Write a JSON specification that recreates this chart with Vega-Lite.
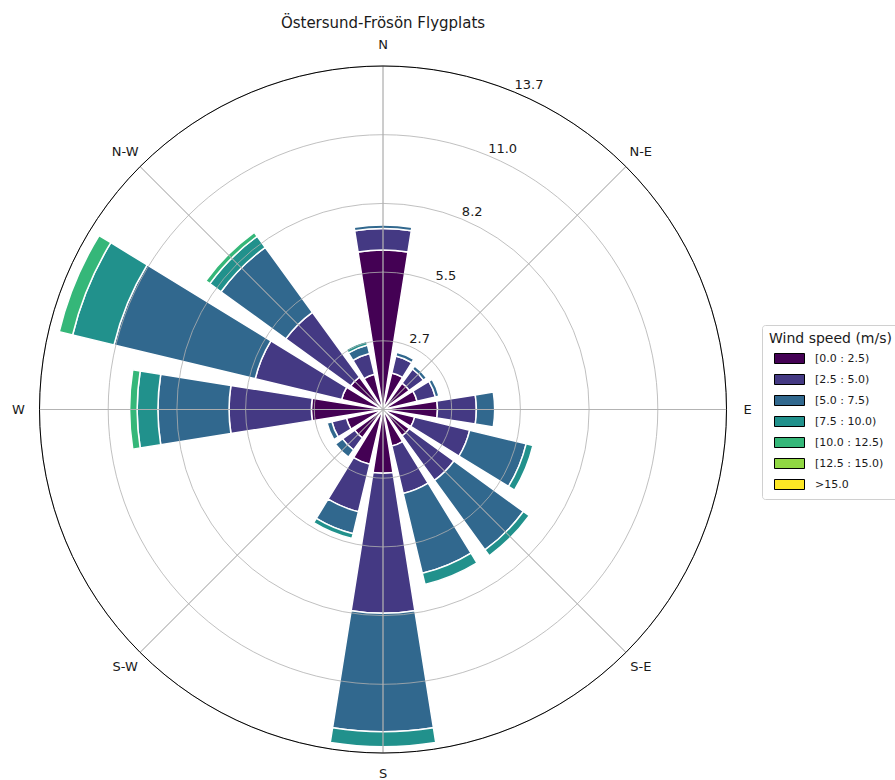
{
  "$schema": "https://vega.github.io/schema/vega-lite/v6.json",
  "width": 766,
  "height": 739,
  "autosize": {"type": "none"},
  "padding": {"left": 0, "top": 40, "right": 129, "bottom": 1},
  "background": "white",
  "title": {"text": "Östersund-Frösön Flygplats", "font": "DejaVu Sans", "fontSize": 15, "fontWeight": "normal", "color": "#1a1a1a", "offset": 8, "anchor": "middle"},
  "config": {"view": {"stroke": null}},
  "datasets": {
    "wind": [
      {"dir": "N", "angle": 0, "speed": "[0.0 : 2.5)", "k": 0, "freq": 6.37},
      {"dir": "N", "angle": 0, "speed": "[2.5 : 5.0)", "k": 1, "freq": 0.86},
      {"dir": "N", "angle": 0, "speed": "[5.0 : 7.5)", "k": 2, "freq": 0.14},
      {"dir": "NNE", "angle": 22.5, "speed": "[0.0 : 2.5)", "k": 0, "freq": 1.5},
      {"dir": "NNE", "angle": 22.5, "speed": "[2.5 : 5.0)", "k": 1, "freq": 0.7},
      {"dir": "NNE", "angle": 22.5, "speed": "[5.0 : 7.5)", "k": 2, "freq": 0.15},
      {"dir": "NE", "angle": 45, "speed": "[0.0 : 2.5)", "k": 0, "freq": 1.3},
      {"dir": "NE", "angle": 45, "speed": "[2.5 : 5.0)", "k": 1, "freq": 0.7},
      {"dir": "NE", "angle": 45, "speed": "[5.0 : 7.5)", "k": 2, "freq": 0.15},
      {"dir": "ENE", "angle": 67.5, "speed": "[0.0 : 2.5)", "k": 0, "freq": 1.4},
      {"dir": "ENE", "angle": 67.5, "speed": "[2.5 : 5.0)", "k": 1, "freq": 0.75},
      {"dir": "ENE", "angle": 67.5, "speed": "[5.0 : 7.5)", "k": 2, "freq": 0.15},
      {"dir": "E", "angle": 90, "speed": "[0.0 : 2.5)", "k": 0, "freq": 2.18},
      {"dir": "E", "angle": 90, "speed": "[2.5 : 5.0)", "k": 1, "freq": 1.55},
      {"dir": "E", "angle": 90, "speed": "[5.0 : 7.5)", "k": 2, "freq": 0.73},
      {"dir": "ESE", "angle": 112.5, "speed": "[0.0 : 2.5)", "k": 0, "freq": 1.3},
      {"dir": "ESE", "angle": 112.5, "speed": "[2.5 : 5.0)", "k": 1, "freq": 2.26},
      {"dir": "ESE", "angle": 112.5, "speed": "[5.0 : 7.5)", "k": 2, "freq": 2.32},
      {"dir": "ESE", "angle": 112.5, "speed": "[7.5 : 10.0)", "k": 3, "freq": 0.28},
      {"dir": "SE", "angle": 135, "speed": "[0.0 : 2.5)", "k": 0, "freq": 1.3},
      {"dir": "SE", "angle": 135, "speed": "[2.5 : 5.0)", "k": 1, "freq": 2.2},
      {"dir": "SE", "angle": 135, "speed": "[5.0 : 7.5)", "k": 2, "freq": 3.43},
      {"dir": "SE", "angle": 135, "speed": "[7.5 : 10.0)", "k": 3, "freq": 0.29},
      {"dir": "SSE", "angle": 157.5, "speed": "[0.0 : 2.5)", "k": 0, "freq": 1.5},
      {"dir": "SSE", "angle": 157.5, "speed": "[2.5 : 5.0)", "k": 1, "freq": 1.95},
      {"dir": "SSE", "angle": 157.5, "speed": "[5.0 : 7.5)", "k": 2, "freq": 3.28},
      {"dir": "SSE", "angle": 157.5, "speed": "[7.5 : 10.0)", "k": 3, "freq": 0.46},
      {"dir": "S", "angle": 180, "speed": "[0.0 : 2.5)", "k": 0, "freq": 2.55},
      {"dir": "S", "angle": 180, "speed": "[2.5 : 5.0)", "k": 1, "freq": 5.59},
      {"dir": "S", "angle": 180, "speed": "[5.0 : 7.5)", "k": 2, "freq": 4.73},
      {"dir": "S", "angle": 180, "speed": "[7.5 : 10.0)", "k": 3, "freq": 0.6},
      {"dir": "SSW", "angle": 202.5, "speed": "[0.0 : 2.5)", "k": 0, "freq": 2.25},
      {"dir": "SSW", "angle": 202.5, "speed": "[2.5 : 5.0)", "k": 1, "freq": 1.95},
      {"dir": "SSW", "angle": 202.5, "speed": "[5.0 : 7.5)", "k": 2, "freq": 0.9},
      {"dir": "SSW", "angle": 202.5, "speed": "[7.5 : 10.0)", "k": 3, "freq": 0.2},
      {"dir": "SW", "angle": 225, "speed": "[0.0 : 2.5)", "k": 0, "freq": 1.4},
      {"dir": "SW", "angle": 225, "speed": "[2.5 : 5.0)", "k": 1, "freq": 0.6},
      {"dir": "SW", "angle": 225, "speed": "[5.0 : 7.5)", "k": 2, "freq": 0.35},
      {"dir": "WSW", "angle": 247.5, "speed": "[0.0 : 2.5)", "k": 0, "freq": 1.5},
      {"dir": "WSW", "angle": 247.5, "speed": "[2.5 : 5.0)", "k": 1, "freq": 0.6},
      {"dir": "WSW", "angle": 247.5, "speed": "[5.0 : 7.5)", "k": 2, "freq": 0.2},
      {"dir": "W", "angle": 270, "speed": "[0.0 : 2.5)", "k": 0, "freq": 2.86},
      {"dir": "W", "angle": 270, "speed": "[2.5 : 5.0)", "k": 1, "freq": 3.29},
      {"dir": "W", "angle": 270, "speed": "[5.0 : 7.5)", "k": 2, "freq": 2.84},
      {"dir": "W", "angle": 270, "speed": "[7.5 : 10.0)", "k": 3, "freq": 0.83},
      {"dir": "W", "angle": 270, "speed": "[10.0 : 12.5)", "k": 4, "freq": 0.3},
      {"dir": "WNW", "angle": 292.5, "speed": "[0.0 : 2.5)", "k": 0, "freq": 1.7},
      {"dir": "WNW", "angle": 292.5, "speed": "[2.5 : 5.0)", "k": 1, "freq": 3.55},
      {"dir": "WNW", "angle": 292.5, "speed": "[5.0 : 7.5)", "k": 2, "freq": 5.8},
      {"dir": "WNW", "angle": 292.5, "speed": "[7.5 : 10.0)", "k": 3, "freq": 1.7},
      {"dir": "WNW", "angle": 292.5, "speed": "[10.0 : 12.5)", "k": 4, "freq": 0.55},
      {"dir": "NW", "angle": 315, "speed": "[0.0 : 2.5)", "k": 0, "freq": 1.6},
      {"dir": "NW", "angle": 315, "speed": "[2.5 : 5.0)", "k": 1, "freq": 3.2},
      {"dir": "NW", "angle": 315, "speed": "[5.0 : 7.5)", "k": 2, "freq": 3.2},
      {"dir": "NW", "angle": 315, "speed": "[7.5 : 10.0)", "k": 3, "freq": 0.55},
      {"dir": "NW", "angle": 315, "speed": "[10.0 : 12.5)", "k": 4, "freq": 0.2},
      {"dir": "NNW", "angle": 337.5, "speed": "[0.0 : 2.5)", "k": 0, "freq": 1.45},
      {"dir": "NNW", "angle": 337.5, "speed": "[2.5 : 5.0)", "k": 1, "freq": 0.85},
      {"dir": "NNW", "angle": 337.5, "speed": "[5.0 : 7.5)", "k": 2, "freq": 0.35},
      {"dir": "NNW", "angle": 337.5, "speed": "[7.5 : 10.0)", "k": 3, "freq": 0.15}
    ],
    "rings": [
      {"r": 2.744, "label": "2.7"},
      {"r": 5.488, "label": "5.5"},
      {"r": 8.232, "label": "8.2"},
      {"r": 10.976, "label": "11.0"},
      {"r": 13.72, "label": "13.7"}
    ],
    "compass": [
      {"angle": 0, "label": "N"},
      {"angle": 45, "label": "N-E"},
      {"angle": 90, "label": "E"},
      {"angle": 135, "label": "S-E"},
      {"angle": 180, "label": "S"},
      {"angle": 225, "label": "S-W"},
      {"angle": 270, "label": "W"},
      {"angle": 315, "label": "N-W"}
    ]
  },
  "layer": [
    {
      "data": {"name": "wind"},
      "transform": [
        {"stack": "freq", "groupby": ["dir"], "sort": [{"field": "k", "order": "ascending"}], "as": ["r0", "r1"]},
        {"calculate": "datum.angle - 9", "as": "t0"},
        {"calculate": "datum.angle + 9", "as": "t1"}
      ],
      "mark": {"type": "arc", "stroke": "white", "strokeWidth": 1.5},
      "encoding": {
        "theta": {"field": "t0", "type": "quantitative", "stack": null, "scale": {"type": "linear", "domain": [0, 360], "range": [0, 6.283185307], "zero": false}},
        "theta2": {"field": "t1"},
        "radius": {"field": "r1", "type": "quantitative", "stack": null, "scale": {"type": "linear", "domain": [0, 13.72], "range": [0, 343.5], "zero": true}},
        "radius2": {"field": "r0"},
        "color": {
          "field": "speed", "type": "nominal",
          "scale": {
            "domain": ["[0.0 : 2.5)", "[2.5 : 5.0)", "[5.0 : 7.5)", "[7.5 : 10.0)", "[10.0 : 12.5)", "[12.5 : 15.0)", ">15.0"],
            "range": ["#440154", "#443983", "#31688e", "#21918c", "#35b779", "#90d743", "#fde725"]
          },
          "legend": {
            "title": "Wind speed (m/s)",
            "orient": "none",
            "legendX": 762,
            "legendY": 285,
            "padding": 7,
            "strokeColor": "#d0d0d0",
            "fillColor": "white",
            "cornerRadius": 3,
            "titleFont": "DejaVu Sans",
            "titleFontSize": 14,
            "titleFontWeight": "normal",
            "titleColor": "#1a1a1a",
            "titlePadding": 7,
            "labelFont": "DejaVu Sans",
            "labelFontSize": 11,
            "labelColor": "#1a1a1a",
            "labelOffset": 20,
            "symbolType": "M-3,-1H3V1H-3Z",
            "symbolSize": 100,
            "symbolStrokeColor": "#000000",
            "symbolStrokeWidth": 1,
            "rowPadding": 6,
            "symbolOffset": 15,
            "encode": {"symbols": {"update": {"stroke": {"value": "#000000"}, "strokeWidth": {"value": 1}, "opacity": {"value": 1}}}}
          }
        }
      }
    },
    {
      "data": {"name": "rings"},
      "mark": {"type": "arc", "filled": false, "stroke": "#b0b0b0", "strokeWidth": 0.8, "theta": 0, "theta2": 6.2832},
      "encoding": {
        "radius": {"field": "r", "type": "quantitative", "stack": null, "scale": {"type": "linear", "domain": [0, 13.72], "range": [0, 343.5], "zero": true}}
      }
    },
    {
      "data": {"name": "compass"},
      "mark": {"type": "arc", "filled": false, "stroke": "#b0b0b0", "strokeWidth": 0.8},
      "encoding": {
        "theta": {"field": "angle", "type": "quantitative", "stack": null, "scale": {"type": "linear", "domain": [0, 360], "range": [0, 6.283185307], "zero": false}},
        "theta2": {"field": "angle"},
        "radius": {"datum": 13.72, "type": "quantitative", "scale": {"type": "linear", "domain": [0, 13.72], "range": [0, 343.5], "zero": true}}
      }
    },
    {
      "data": {"values": [{"r": 13.72}]},
      "mark": {"type": "arc", "filled": false, "stroke": "#000000", "strokeWidth": 1, "theta": 0, "theta2": 6.2832},
      "encoding": {
        "radius": {"field": "r", "type": "quantitative", "stack": null, "scale": {"type": "linear", "domain": [0, 13.72], "range": [0, 343.5], "zero": true}}
      }
    },
    {
      "data": {"name": "rings"},
      "mark": {"type": "text", "align": "left", "baseline": "bottom", "font": "DejaVu Sans", "fontSize": 13, "color": "#1a1a1a"},
      "encoding": {
        "theta": {"datum": 22.5, "type": "quantitative", "stack": null, "scale": {"type": "linear", "domain": [0, 360], "range": [0, 6.283185307], "zero": false}},
        "radius": {"field": "r", "type": "quantitative", "stack": null, "scale": {"type": "linear", "domain": [0, 13.72], "range": [0, 343.5], "zero": true}},
        "text": {"field": "label"}
      }
    },
    {
      "data": {"name": "compass"},
      "mark": {"type": "text", "align": "center", "baseline": "middle", "font": "DejaVu Sans", "fontSize": 13, "color": "#1a1a1a"},
      "encoding": {
        "theta": {"field": "angle", "type": "quantitative", "stack": null, "scale": {"type": "linear", "domain": [0, 360], "range": [0, 6.283185307], "zero": false}},
        "radius": {"datum": 14.56, "type": "quantitative", "scale": {"type": "linear", "domain": [0, 13.72], "range": [0, 343.5], "zero": true}},
        "text": {"field": "label"}
      }
    }
  ]
}
